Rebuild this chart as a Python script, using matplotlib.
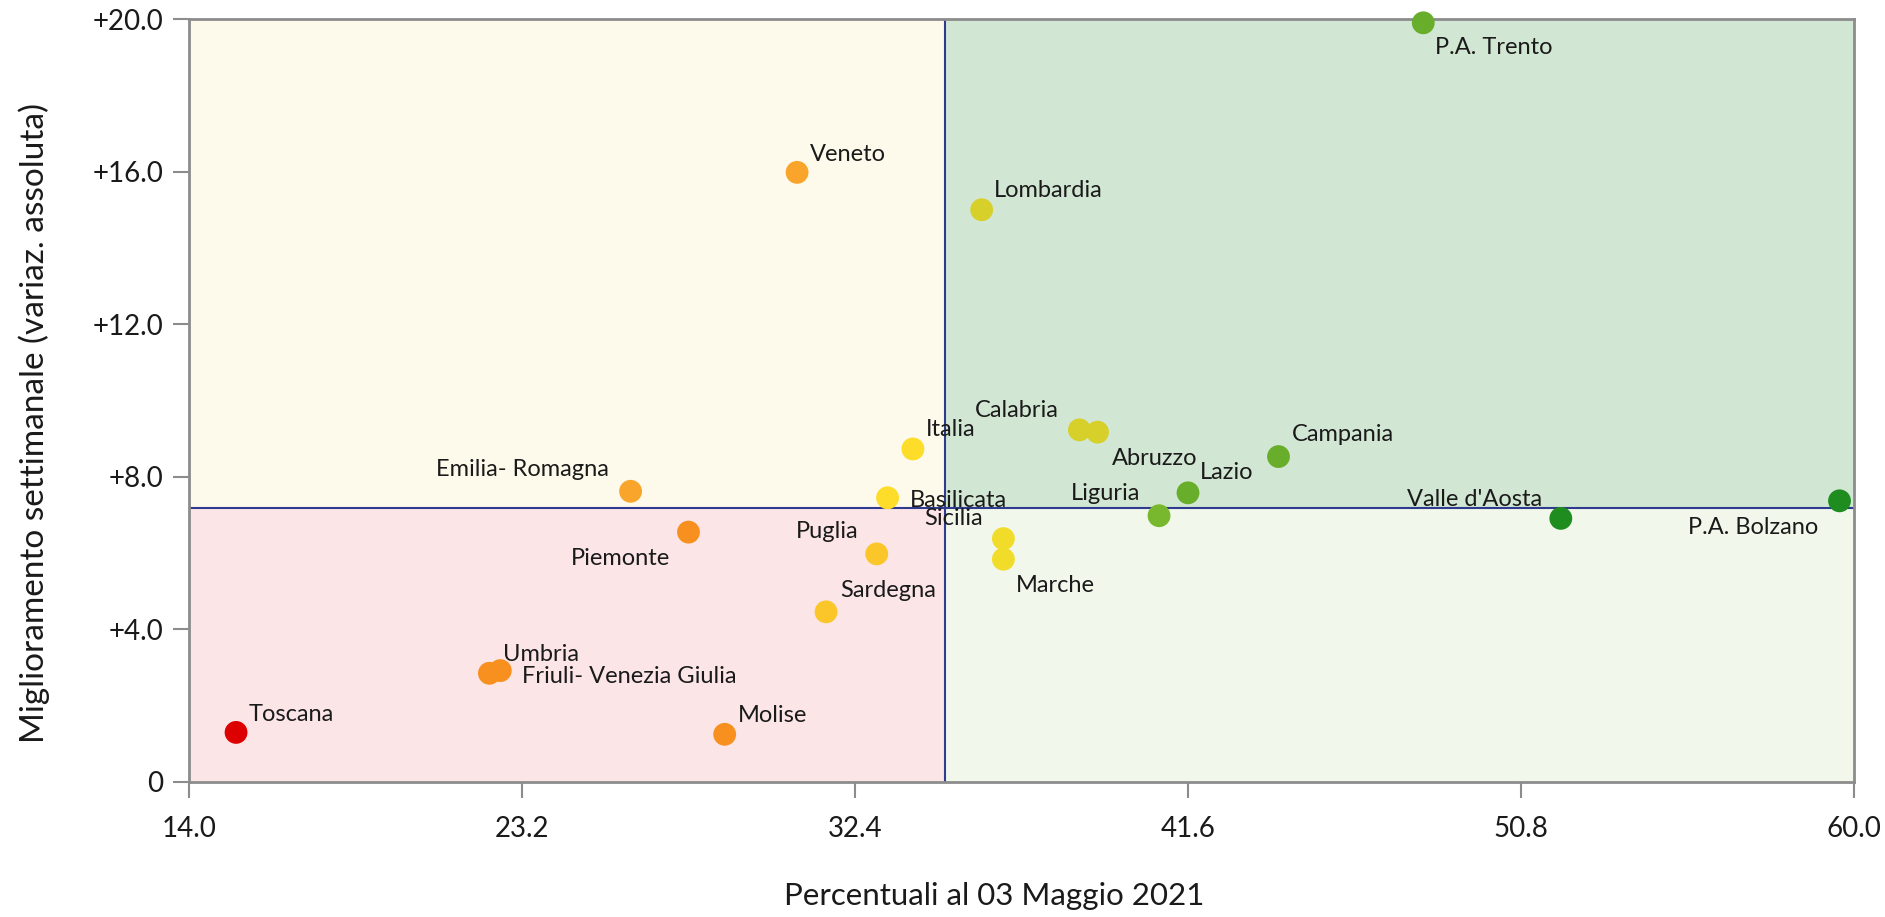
import matplotlib
matplotlib.use("Agg")
import matplotlib.pyplot as plt
from matplotlib.patches import Rectangle

plt.rcParams["font.family"] = ["Lato", "DejaVu Sans"]

# region data: percent at 03 May 2021 (x), weekly improvement (y)
regions = [
    "Toscana", "Umbria", "Friuli- Venezia Giulia", "Emilia- Romagna", "Piemonte",
    "Molise", "Veneto", "Sardegna", "Puglia", "Basilicata", "Italia",
    "Lombardia", "Marche", "Sicilia", "Calabria", "Abruzzo", "Liguria",
    "Lazio", "Campania", "P.A. Trento", "Valle d'Aosta", "P.A. Bolzano",
]
x_vals = [15.3, 22.3, 22.6, 26.2, 27.8, 28.8, 30.8, 31.6, 33.0, 33.3, 34.0,
          35.9, 36.5, 36.5, 38.6, 39.1, 40.8, 41.6, 44.1, 48.1, 51.9, 59.6]
y_vals = [1.3, 2.85, 2.92, 7.62, 6.55, 1.25, 15.98, 4.46, 5.98, 7.45, 8.73,
          15.0, 5.84, 6.38, 9.23, 9.17, 6.98, 7.58, 8.53, 19.9, 6.91, 7.37]
colors = ["#dd0000", "#f7901e", "#f7901e", "#f9a42a", "#f7901e", "#f7901e",
          "#f9a42a", "#fbc62a", "#fbc62a", "#fddc2a", "#fddc2a", "#d7cf2a",
          "#f2dc2a", "#f2dc2a", "#d7cf2a", "#d7cf2a", "#78b82e", "#69ae2a",
          "#69ae2a", "#69ae2a", "#1e8c1e", "#1e8c1e"]
# label offsets in pixels and alignment
label_pos = {
    "Toscana": (13, 18, "left"), "Umbria": (14, 19, "left"),
    "Friuli- Venezia Giulia": (22, -6, "left"),
    "Emilia- Romagna": (-22, 22, "right"), "Piemonte": (-18, -26, "right"),
    "Molise": (13, 19, "left"), "Veneto": (13, 18, "left"),
    "Sardegna": (14, 21, "left"), "Puglia": (-18, 22, "right"),
    "Basilicata": (22, -3, "left"), "Italia": (13, 19, "left"),
    "Lombardia": (12, 19, "left"), "Marche": (12, -26, "left"),
    "Sicilia": (-21, 20, "right"), "Calabria": (-21, 19, "right"),
    "Abruzzo": (14, -26, "left"), "Liguria": (-19, 22, "right"),
    "Lazio": (12, 20, "left"), "Campania": (13, 22, "left"),
    "P.A. Trento": (12, -25, "left"), "Valle d'Aosta": (-19, 19, "right"),
    "P.A. Bolzano": (-21, -27, "right"),
}

x_ticks = [14.0, 23.2, 32.4, 41.6, 50.8, 60.0]
y_ticks = [0, 4, 8, 12, 16, 20]
x_split = 34.9
y_split = 7.17

fig = plt.figure(figsize=(18.85, 9.17), dpi=100)
ax = fig.add_axes([189 / 1885, 1 - 782 / 917, 1665 / 1885, 763 / 917])
ax.set_xlim(14, 60)
ax.set_ylim(0, 20)

# quadrant backgrounds
ax.add_patch(Rectangle((14, y_split), x_split - 14, 20 - y_split, color="#fefaeb", zorder=0))
ax.add_patch(Rectangle((x_split, y_split), 60 - x_split, 20 - y_split, color="#d2e7d3", zorder=0))
ax.add_patch(Rectangle((14, 0), x_split - 14, y_split, color="#fbe5e7", zorder=0))
ax.add_patch(Rectangle((x_split, 0), 60 - x_split, y_split, color="#f1f7ea", zorder=0))
ax.axvline(x_split, color="#2e3b8f", lw=1.5, zorder=1)
ax.axhline(y_split, color="#2e3b8f", lw=1.5, zorder=1)

ax.scatter(x_vals, y_vals, s=270, c=colors, zorder=3, clip_on=False, linewidths=0)

for name, xv, yv in zip(regions, x_vals, y_vals):
    dx, dy, ha = label_pos[name]
    ax.annotate(name, (xv, yv), xytext=(dx * 0.72, dy * 0.72), textcoords="offset points",
                ha=ha, va="center", fontsize=17, color="#1a1a1a", zorder=4)

ax.set_xticks(x_ticks)
ax.set_xticklabels([f"{t:.1f}" for t in x_ticks])
ax.set_yticks(y_ticks)
ax.set_yticklabels(["0" if t == 0 else f"+{t:.1f}" for t in y_ticks])
ax.tick_params(axis="both", length=11.5, width=1.5, color="#8c8c8c",
               labelsize=20, labelcolor="#1a1a1a")
ax.tick_params(axis="x", pad=13)
ax.tick_params(axis="y", pad=7)
for sp in ax.spines.values():
    sp.set_color("#8c8c8c")
    sp.set_linewidth(2)

ax.set_xlabel("Percentuali al 03 Maggio 2021", fontsize=22.5, color="#1a1a1a")
ax.set_ylabel("Miglioramento settimanale (variaz. assoluta)", fontsize=24,
              color="#1a1a1a")
ax.xaxis.label.set_va("center")
ax.yaxis.label.set_va("center")
ax.xaxis.set_label_coords(0.4835, -0.149)
ax.yaxis.set_label_coords(-0.093, 0.47)

fig.savefig("out.png", dpi=100)
